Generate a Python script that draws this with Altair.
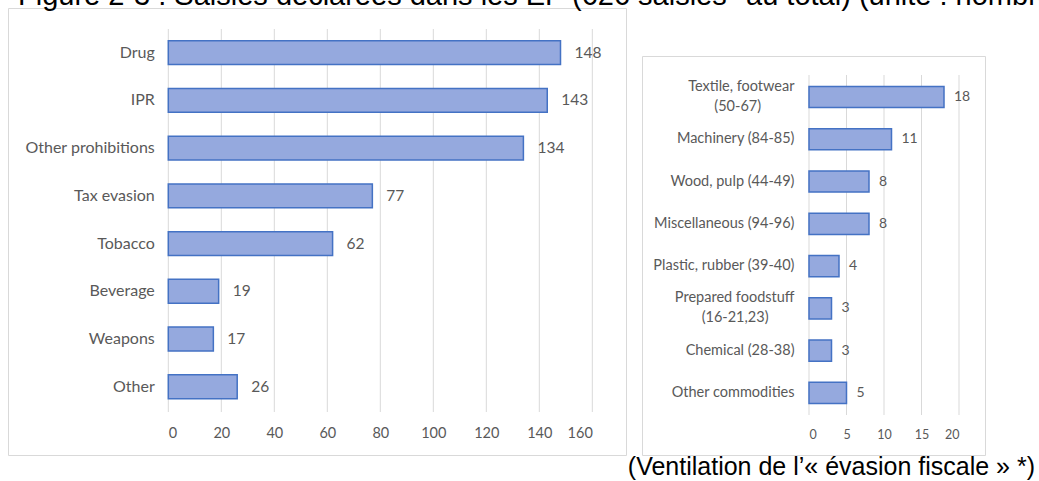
import altair as alt
import pandas as pd

left_cats = ["Drug", "IPR", "Other prohibitions", "Tax evasion", "Tobacco",
             "Beverage", "Weapons", "Other"]
left_vals = [148, 143, 134, 77, 62, 19, 17, 26]
left_ticks = [0, 20, 40, 60, 80, 100, 120, 140, 160]

right_cats = ["Textile, footwear\n(50-67)", "Machinery (84-85)", "Wood, pulp (44-49)",
              "Miscellaneous (94-96)", "Plastic, rubber (39-40)",
              "Prepared foodstuff\n(16-21,23)", "Chemical (28-38)", "Other commodities"]
right_vals = [18, 11, 8, 8, 4, 3, 3, 5]
right_ticks = [0, 5, 10, 15, 20]

title_text = "Figure 2-3 : Saisies déclarées dans les EP (626 saisies* au total) (unité : nombre)"
subtitle_text = "(Ventilation de l\u2019« évasion fiscale » *)"

FONT = "Lato"
TXT = "#595959"
GRID = "#d9d9d9"
FILL = "#95A9DE"
STROKE = "#4472C4"

left_df = pd.DataFrame({"cat": left_cats, "val": left_vals})
right_df = pd.DataFrame({"cat": right_cats, "val": right_vals})
lt_df = pd.DataFrame({"t": left_ticks})
rt_df = pd.DataFrame({"t": right_ticks})
one = pd.DataFrame({"a": [0]})

# ---------- left panel ----------
lx = alt.Scale(domain=[0, 160], range=[168.3, 592.3], nice=False, zero=True)
ly = alt.Scale(domain=left_cats, range=[28.8, 410.6], paddingInner=0.5, paddingOuter=0.25)
lx_axis = alt.Axis(values=left_ticks, orient="bottom", offset=-69, domain=False,
                   ticks=False, tickSize=0, grid=False, labelPadding=14, zindex=2,
                   labelFont=FONT, labelFontSize=14.5, labelColor=TXT, title=None)
ly_axis = alt.Axis(orient="left", offset=-168.3, domain=False, ticks=False, tickSize=0,
                   labelPadding=14, labelFont=FONT, labelFontSize=16, zindex=2,
                   labelColor=TXT, title=None)

left_grid = alt.Chart(lt_df).mark_rule(color=GRID, strokeWidth=1).encode(
    x=alt.X("t:Q", scale=lx, axis=lx_axis),
    y=alt.value(29), y2=alt.value(412),
)
left_bars = alt.Chart(left_df).mark_bar(fill=FILL, stroke=STROKE, strokeWidth=1.5).encode(
    x=alt.X("val:Q", scale=lx, axis=lx_axis),
    y=alt.Y("cat:N", scale=ly, sort=left_cats, axis=ly_axis),
)
left_text = alt.Chart(left_df).mark_text(align="left", baseline="middle", dx=14,
                                         font=FONT, fontSize=15.5, color=TXT).encode(
    x=alt.X("val:Q", scale=lx, axis=lx_axis),
    y=alt.Y("cat:N", scale=ly, sort=left_cats, axis=ly_axis),
    text="val:Q",
)
left = alt.layer(left_grid, left_bars, left_text)

# ---------- right panel ----------
rx = alt.Scale(domain=[0, 20], range=[809, 959], nice=False, zero=True)
ry = alt.Scale(domain=right_cats, range=[75.9, 414], paddingInner=0.5, paddingOuter=0.25)
rx_axis = alt.Axis(values=right_ticks, orient="bottom", offset=-66, domain=False,
                   ticks=False, tickSize=0, grid=False, labelPadding=13, zindex=2,
                   labelFont=FONT, labelFontSize=12.5, labelColor=TXT, title=None)

# multi-line labels: second line centred under the first
# (trailing no-break spaces, closed by a zero-width space so they are not trimmed)
label_expr = (
    "length(split(datum.label, '\\n')) > 1 ? "
    "[split(datum.label, '\\n')[0], "
    "pad(split(datum.label, '\\n')[1], length(split(datum.label, '\\n')[1]) + "
    "round((length(split(datum.label, '\\n')[0]) - length(split(datum.label, '\\n')[1])) * 0.85), "
    "'\u00a0') + '\u200b'] : datum.label"
)
ry_axis = alt.Axis(orient="left", offset=-809, domain=False, ticks=False, tickSize=0,
                   labelPadding=15, labelFont=FONT, labelFontSize=14.5, zindex=2,
                   labelLineHeight=20, labelExpr=label_expr,
                   labelOffset={"condition": {"test": "indexof(datum.label, '\\n') >= 0",
                                              "value": -10}, "value": 0},
                   labelColor=TXT, title=None)

right_grid = alt.Chart(rt_df).mark_rule(color=GRID, strokeWidth=1).encode(
    x=alt.X("t:Q", scale=rx, axis=rx_axis),
    y=alt.value(75), y2=alt.value(415),
)
right_bars = alt.Chart(right_df).mark_bar(fill=FILL, stroke=STROKE, strokeWidth=1.5).encode(
    x=alt.X("val:Q", scale=rx, axis=rx_axis),
    y=alt.Y("cat:N", scale=ry, sort=right_cats, axis=ry_axis),
)
right_text = alt.Chart(right_df).mark_text(align="left", baseline="middle", dx=10,
                                           font=FONT, fontSize=14, color=TXT).encode(
    x=alt.X("val:Q", scale=rx, axis=rx_axis),
    y=alt.Y("cat:N", scale=ry, sort=right_cats, axis=ry_axis),
    text="val:Q",
)
right = alt.layer(right_grid, right_bars, right_text)

# ---------- frames and texts ----------
box_left = alt.Chart(one).mark_rect(fill="white", stroke=GRID, strokeWidth=1).encode(
    x=alt.value(8.5), x2=alt.value(626.5), y=alt.value(8.5), y2=alt.value(455.5))
box_right = alt.Chart(one).mark_rect(fill="white", stroke=GRID, strokeWidth=1).encode(
    x=alt.value(642.5), x2=alt.value(985.5), y=alt.value(56.5), y2=alt.value(455.5))
title = alt.Chart(one).mark_text(text=title_text, align="left", baseline="alphabetic",
                                 font="Liberation Sans", fontSize=29, color="#000000").encode(
    x=alt.value(18), y=alt.value(5))
subtitle = alt.Chart(one).mark_text(text=subtitle_text, align="right", baseline="alphabetic",
                                    font="Liberation Sans", fontSize=25, color="#000000").encode(
    x=alt.value(1035), y=alt.value(475))

chart = alt.layer(box_left, box_right, title, subtitle, left, right).resolve_scale(
    x="independent", y="independent"
).resolve_axis(
    x="independent", y="independent"
).properties(
    width=1039, height=481, padding=0, autosize=alt.AutoSizeParams(type="none"),
    background="white"
).configure_view(stroke=None)

chart.save("out.html", embed_options={"renderer": "svg", "actions": False})
